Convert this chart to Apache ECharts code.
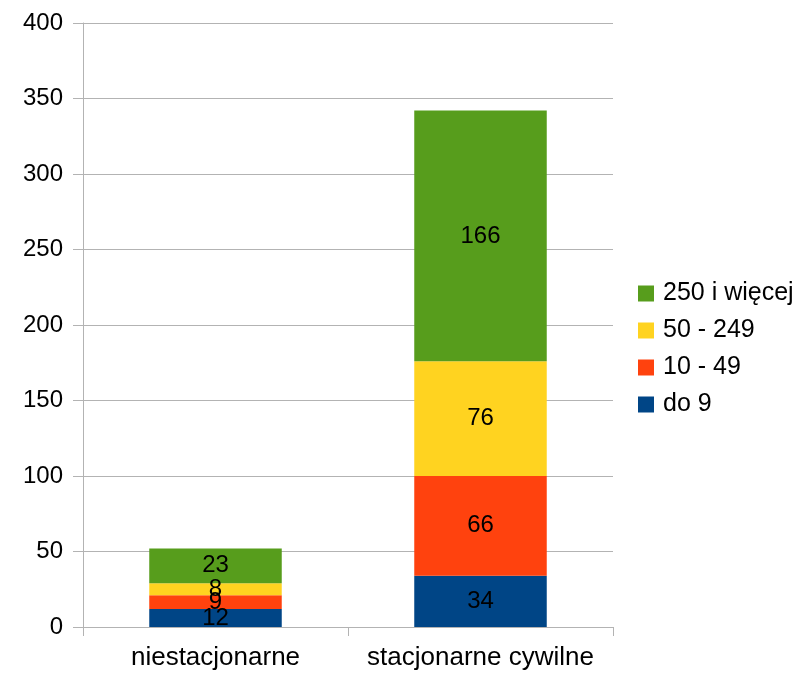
<!DOCTYPE html>
<html><head><meta charset="utf-8">
<script src="https://cdn.jsdelivr.net/npm/echarts@6/dist/echarts.min.js"></script>
<style>html,body{margin:0;padding:0;background:#fff}#c{width:795px;height:674px}</style>
</head><body><div id="c"></div>
<script>
const categories = ['niestacjonarne', 'stacjonarne cywilne'];
const do9 = [12, 34];
const s10_49 = [9, 66];
const s50_249 = [8, 76];
const s250 = [23, 166];
const yTicks = {min: 0, max: 400, interval: 50};

const font = 'Liberation Sans';
function ser(name, data, color) {
  return {name, type: 'bar', stack: 'a', data, barWidth: '50%',
    itemStyle: {color},
    label: {show: true, position: 'inside', color: '#000', fontFamily: font, fontSize: 24}};
}
const chart = echarts.init(document.getElementById('c'));
chart.setOption({
  animation: false,
  grid: {left: 83, right: 182, top: 23, bottom: 47},
  legend: {orient: 'vertical', left: 633, top: 276, itemWidth: 16, itemHeight: 16, itemGap: 12,
    icon: 'rect',
    data: ['250 i więcej', '50 - 249', '10 - 49', 'do 9'],
    textStyle: {fontFamily: font, fontSize: 25, color: '#000', lineHeight: 25, padding: [0,0,0,4]}},
  xAxis: {type: 'category', data: categories,
    axisLine: {lineStyle: {color: '#b3b3b3'}},
    axisTick: {show: true, length: 9, interval: 0, lineStyle: {color: '#b3b3b3'}},
    axisLabel: {fontFamily: font, fontSize: 26, color: '#000', margin: 18, interval: 0, hideOverlap: false}},
  yAxis: {type: 'value', min: yTicks.min, max: yTicks.max, interval: yTicks.interval,
    axisLine: {show: true, lineStyle: {color: '#b3b3b3'}},
    axisTick: {show: true, length: 10, lineStyle: {color: '#b3b3b3'}},
    splitLine: {lineStyle: {color: '#b3b3b3'}},
    axisLabel: {fontFamily: font, fontSize: 24, color: '#000', margin: 20}},
  series: [
    ser('do 9', do9, '#004586'),
    ser('10 - 49', s10_49, '#ff420e'),
    ser('50 - 249', s50_249, '#ffd320'),
    ser('250 i więcej', s250, '#579d1c')
  ]
});
</script></body></html>
